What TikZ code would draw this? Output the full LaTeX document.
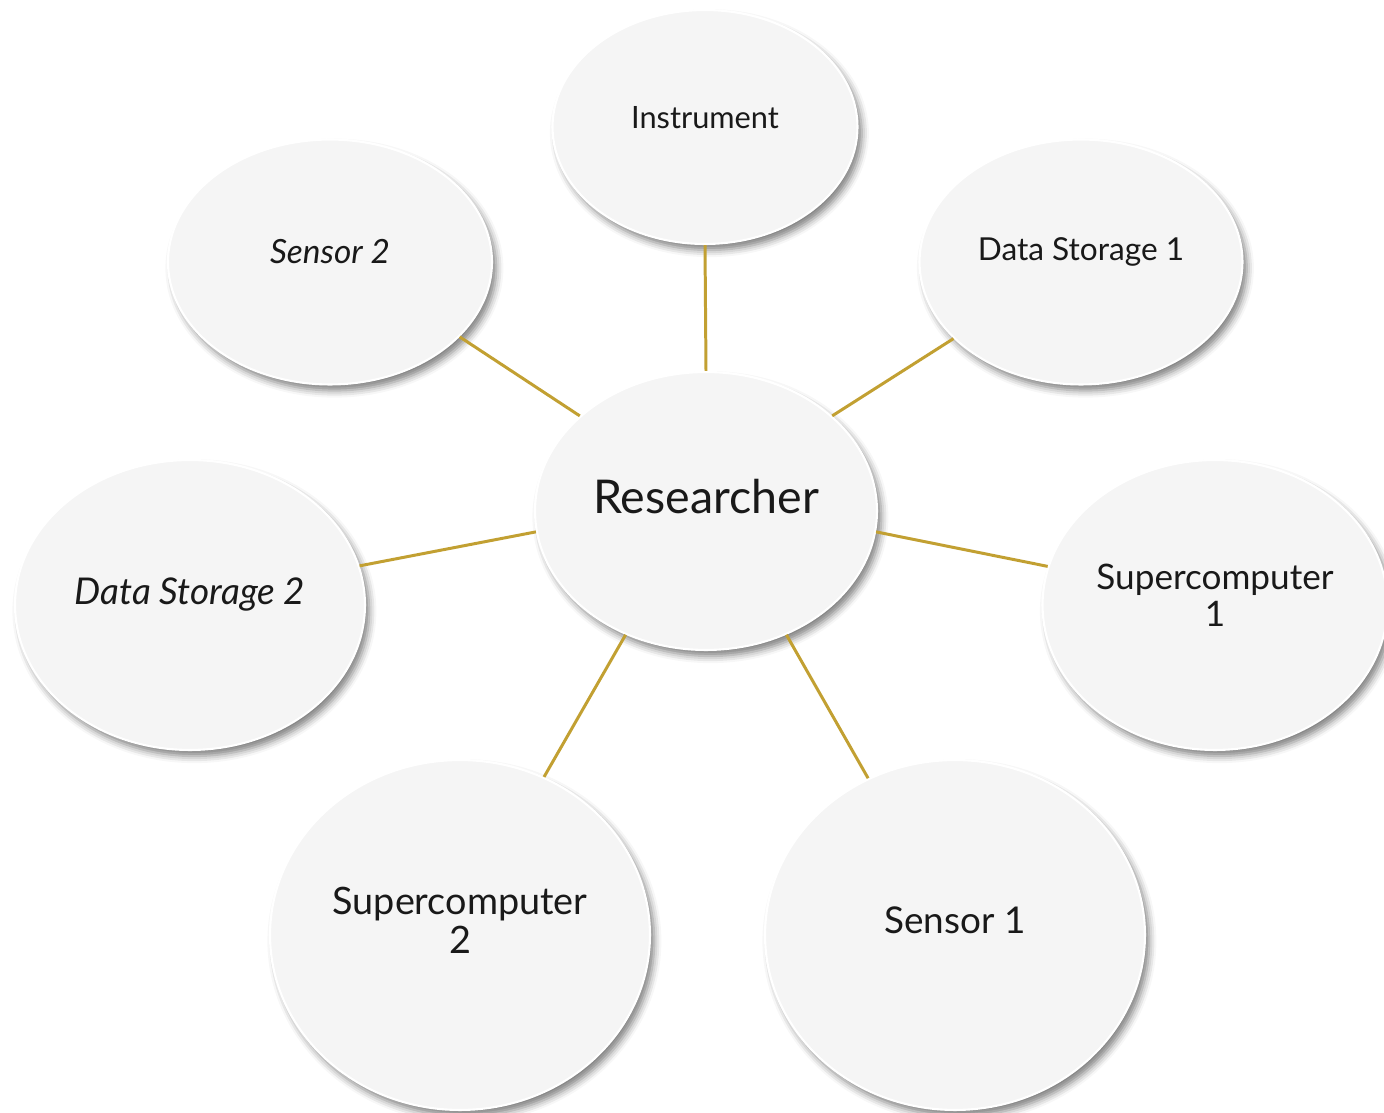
\documentclass[tikz,border=0pt]{standalone}
\usepackage{fontspec}
\setmainfont{Lato}
\usepackage{tikz}
\usetikzlibrary{shapes.geometric,shadows.blur}
\definecolor{linkgold}{HTML}{C2A032}

\begin{document}
\begin{tikzpicture}[x=0.02cm, y=0.02cm]
    \tikzstyle{bubble} = [ellipse, fill=black!4, draw=white, line width=1.2pt, inner sep=0pt,
        blur shadow={shadow xshift=2.5pt, shadow yshift=-3.5pt, shadow blur radius=4pt, shadow opacity=50}]
    \tikzstyle{tag} = [text=black!90, align=center, inner sep=0pt]
    \tikzstyle{link} = [draw=linkgold, line width=1.7pt]
    \useasboundingbox (0,0) rectangle (1384,1113);

    % hub and its satellites
    \node[bubble, minimum width=6.84cm, minimum height=5.56cm] (res) at (706,602) {};
    \node[bubble, minimum width=6.1cm, minimum height=4.68cm] (instr) at (705,986) {};
    \node[bubble, minimum width=6.48cm, minimum height=4.9cm] (sensb) at (330,851) {};
    \node[bubble, minimum width=6.46cm, minimum height=4.9cm] (storea) at (1081,851) {};
    \node[bubble, minimum width=7.0cm, minimum height=5.8cm] (storeb) at (190,508) {};
    \node[bubble, minimum width=6.9cm, minimum height=5.8cm] (supera) at (1215,508) {};
    \node[bubble, minimum width=7.6cm, minimum height=7.0cm] (superb) at (460,178) {};
    \node[bubble, minimum width=7.6cm, minimum height=7.0cm] (sensa) at (955,178) {};

    \node[tag, font=\fontsize{26.5}{30}\selectfont] (tres) at ([yshift=0.28cm]res.center) {Researcher};
    \node[tag, font=\fontsize{17.5}{20}\selectfont] (tinstr) at ([yshift=0.18cm]instr.center) {Instrument};
    \node[tag, font=\fontsize{19}{22}\selectfont\itshape] (tsensb) at ([yshift=0.2cm]sensb.center) {Sensor 2};
    \node[tag, font=\fontsize{18}{21}\selectfont] (tstorea) at ([yshift=0.2cm]storea.center) {Data Storage 1};
    \node[tag, font=\fontsize{21}{24}\selectfont\itshape] (tstoreb) at ([yshift=0.2cm]storeb.center) {Data Storage 2};
    \node[tag, font=\fontsize{20}{21}\selectfont] (tsupera) at ([yshift=0.2cm]supera.center) {Supercomputer\\1};
    \node[tag, font=\fontsize{21.5}{22}\selectfont] (tsuperb) at ([yshift=0.3cm]superb.center) {Supercomputer\\2};
    \node[tag, font=\fontsize{21}{24}\selectfont] (tsensa) at ([yshift=0.3cm]sensa.center) {Sensor 1};

    % spokes
    \draw[link] (instr.270) -- (res.90);
    \draw[link] (sensb.-30) -- (res.143);
    \draw[link] (storea.211) -- (res.37);
    \draw[link] (storeb.13) -- (res.187);
    \draw[link] (supera.167) -- (res.353);
    \draw[link] (superb.62) -- (res.237);
    \draw[link] (sensa.119) -- (res.303);
\end{tikzpicture}
\end{document}
